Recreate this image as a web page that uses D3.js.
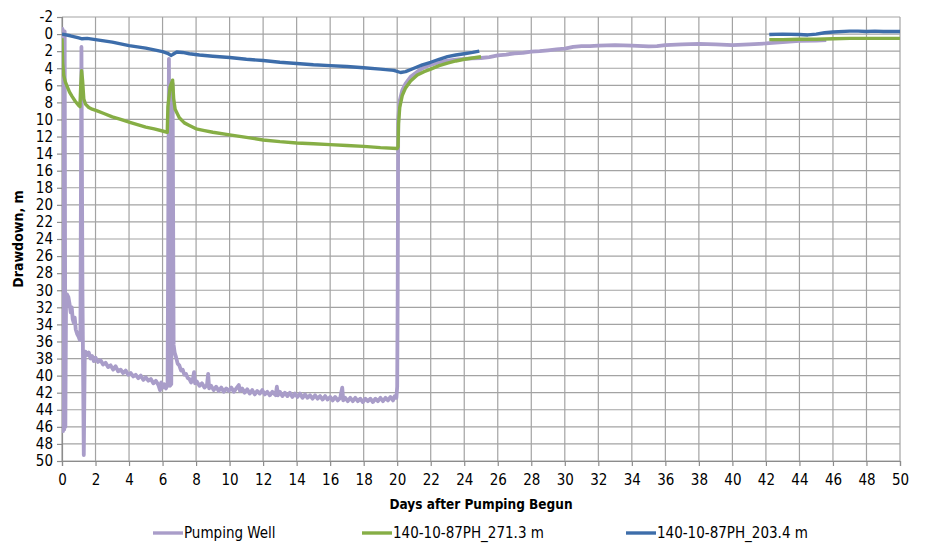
<!DOCTYPE html>
<html>
<head>
<meta charset="utf-8">
<script src="https://cdn.jsdelivr.net/npm/d3@7"></script>
<style>
  html, body { margin: 0; padding: 0; background: #fff; }
  svg { display: block; }
  text { font-family: "Liberation Sans Narrow", "DejaVu Sans Condensed", "Arial Narrow", sans-serif; fill: #000; }
</style>
</head>
<body>
<svg id="chart" width="928" height="546"></svg>
<script>
// Drawdown records for the pumping test (days since start, drawdown in metres).
// A null drawdown marks a gap in the record.
const seriesNames = ["Pumping Well", "140-10-87PH_271.3 m", "140-10-87PH_203.4 m"];

const wellDays = [0, 0.03, 0.07, 0.1, 0.13, 0.16, 0.2, 0.24, 0.3, 0.38, 0.45, 0.52, 0.58, 0.64, 0.7, 0.76, 0.82, 0.9, 0.98, 1.06, 1.1, 1.16, 1.22, 1.3, 1.36,
  1.40, 1.50, 1.60, 1.70, 1.80, 1.90, 2.00, 2.15, 2.30, 2.45, 2.60, 2.75, 2.90, 3.05, 3.20, 3.35, 3.50, 3.65, 3.80, 3.95, 4.10, 4.25, 4.40, 4.55, 4.70, 4.85,
  5.00, 5.15, 5.30, 5.45, 5.60, 5.75, 5.85, 5.92, 6.00, 6.10, 6.20, 6.30,
  6.38, 6.44, 6.52, 6.6, 6.66, 6.72, 6.8, 6.9, 7.0, 7.1, 7.2, 7.3, 7.4, 7.5,
  7.60, 7.70, 7.80, 7.88, 7.94, 8.05, 8.20, 8.35, 8.50, 8.65, 8.72, 8.78, 8.90, 9.05, 9.20, 9.35, 9.50, 9.65, 9.80, 9.95,
  10.10, 10.25, 10.40, 10.55, 10.62, 10.75, 10.90, 11.05, 11.20, 11.35, 11.50, 11.65, 11.80, 11.95, 12.10, 12.25, 12.40, 12.55, 12.75, 12.82, 12.88,
  13.00, 13.15, 13.30, 13.45, 13.60, 13.75, 13.90, 14.05, 14.20, 14.35, 14.50, 14.65, 14.80, 14.95, 15.10, 15.25, 15.40, 15.55, 15.70, 15.85,
  16.00, 16.15, 16.30, 16.45, 16.60, 16.72, 16.78, 16.90, 17.05, 17.20, 17.35, 17.50, 17.65, 17.80, 17.95, 18.10, 18.25, 18.40, 18.55, 18.70, 18.85,
  19.00, 19.15, 19.30, 19.45, 19.60, 19.75, 19.85, 19.95, 20.00,
  20.03, 20.06, 20.15, 20.3, 20.5, 20.8, 21.2, 21.6, 22.0, 22.5, 23.0, 23.5, 24.0, 24.5, 25.0, 25.5, 26.0, 26.5, 27.0, 27.5, 28.0, 28.5, 29.0, 29.5,
  30.0, 30.5, 31.0, 31.5, 32.0, 33.0, 34.0, 35.0, 35.5, 36.0, 37.0, 38.0, 39.0, 40.0, 41.0, 42.0, 43.0, 44.0, 45.0, 45.6];
const wellDrawdown = [0.2, -0.6, 46.5, 0, 46.3, -0.3, 46, 31.5, 30.5, 30.8, 31.6, 32.6, 32.0, 33.4, 33.8, 33.2, 34.6, 35.1, 35.4, 35.8, 34.5, 1.5, 30, 49.3, 37.2,
  37.2, 37.6, 37.3, 38.0, 37.7, 38.3, 37.9, 38.4, 38.2, 38.7, 38.5, 39.0, 38.8, 39.3, 38.9, 39.5, 39.3, 39.7, 39.4, 39.9, 39.7, 40.1, 39.9, 40.3, 40.0, 40.5,
  40.2, 40.6, 40.4, 40.9, 40.6, 41.1, 41.7, 40.8, 41.4, 41.0, 41.5, 41.1,
  2.9, 41.2, 41.0, 5.8, 36.4, 37.3, 37.8, 38.6, 38.8, 39.4, 39.3, 39.9, 39.8, 40.3,
  40.4, 40.8, 40.5, 39.6, 40.9, 40.7, 41.2, 40.9, 41.4, 41.1, 39.8, 41.5, 41.2, 41.7, 41.3, 41.8, 41.4, 41.9, 41.5, 41.8,
  41.4, 41.9, 41.5, 41.1, 41.8, 41.5, 42.0, 41.6, 42.1, 41.7, 42.2, 41.8, 42.1, 41.7, 42.2, 41.9, 42.3, 41.9, 42.3, 41.3, 42.3,
  41.9, 42.4, 42.0, 42.4, 42.0, 42.5, 42.1, 42.5, 42.1, 42.6, 42.2, 42.6, 42.3, 42.7, 42.3, 42.7, 42.4, 42.8, 42.4, 42.8,
  42.5, 42.9, 42.5, 42.9, 42.6, 41.4, 42.9, 42.6, 43.0, 42.6, 43.0, 42.6, 43.0, 42.7, 43.1, 42.7, 43.0, 42.7, 43.1, 42.7, 43.0,
  42.6, 43.0, 42.6, 42.9, 42.5, 42.9, 42.4, 42.6, 41.3,
  30, 10, 7.8, 6.6, 5.8, 5.0, 4.4, 3.9, 3.6, 3.3, 3.1, 3.0, 2.9, 2.85, 2.8, 2.7, 2.5, 2.4, 2.25, 2.2, 2.05, 2.0, 1.9, 1.8,
  1.7, 1.5, 1.4, 1.4, 1.35, 1.3, 1.35, 1.45, 1.4, 1.3, 1.2, 1.15, 1.2, 1.3, 1.2, 1.1, 0.95, 0.8, 0.75, 0.7];

const ph271Days = [0, 0.04, 0.1, 0.2, 0.3, 0.45, 0.6, 0.8, 0.97, 1.07, 1.12, 1.17, 1.23, 1.3, 1.4, 1.6, 1.8, 2.1, 2.5, 3.0, 3.5, 4.0, 4.5, 5.0, 5.5, 6.0, 6.28, 6.32, 6.45, 6.6, 6.66, 6.75, 7.0, 7.3, 7.6, 8.0, 8.5, 9.0, 10.0, 11.0, 12.0, 13.0, 14.0, 15.0, 16.0, 17.0, 18.0, 19.0, 20.0, 20.05, 20.08, 20.15, 20.3, 20.5, 20.8, 21.2, 21.6, 22.0, 22.5, 23.0, 23.5, 24.0, 24.5, 25.0, 33.0, 42.2, 43.0, 44.0, 45.0, 46.0, 47.0, 48.0, 49.0, 50.0];
const ph271Drawdown = [0.5, 3.4, 4.8, 5.6, 6.1, 6.8, 7.3, 7.9, 8.3, 8.5, 6.0, 4.3, 5.5, 7.6, 8.2, 8.6, 8.8, 9.0, 9.3, 9.7, 10.0, 10.3, 10.6, 10.9, 11.1, 11.35, 11.5, 8.5, 6.2, 5.4, 7.5, 8.8, 9.8, 10.4, 10.7, 11.1, 11.3, 11.5, 11.8, 12.1, 12.4, 12.6, 12.75, 12.85, 12.95, 13.05, 13.15, 13.3, 13.4, 13.2, 10.5, 8.6, 7.2, 6.3, 5.5, 4.8, 4.4, 4.1, 3.7, 3.4, 3.15, 2.95, 2.8, 2.65, null, 0.65, 0.65, 0.6, 0.6, 0.55, 0.5, 0.5, 0.5, 0.5];

const ph203Days = [0, 0.5, 1.0, 1.2, 1.5, 2.0, 2.5, 3.0, 3.5, 4.0, 4.5, 5.0, 5.5, 6.0, 6.3, 6.5, 6.6, 6.85, 7.2, 7.6, 8.2, 9.0, 10.0, 11.0, 12.0, 13.0, 14.0, 15.0, 16.0, 17.0, 18.0, 19.0, 19.8, 20.2, 20.5, 21.0, 21.5, 22.0, 22.5, 23.0, 23.5, 24.0, 24.5, 24.9, 33.0, 42.2, 43.0, 44.0, 44.5, 45.0, 45.5, 46.0, 47.0, 47.5, 48.0, 48.5, 49.0, 50.0];
const ph203Drawdown = [0, 0.2, 0.45, 0.55, 0.5, 0.65, 0.8, 0.95, 1.15, 1.35, 1.5, 1.65, 1.85, 2.05, 2.25, 2.5, 2.4, 2.1, 2.15, 2.3, 2.45, 2.6, 2.75, 2.95, 3.1, 3.3, 3.45, 3.6, 3.7, 3.8, 3.95, 4.1, 4.25, 4.5, 4.4, 4.0, 3.6, 3.3, 2.95, 2.65, 2.45, 2.3, 2.15, 2.0, null, 0.05, 0.0, 0.05, 0.1, 0.0, -0.15, -0.25, -0.35, -0.35, -0.3, -0.35, -0.3, -0.3];

const seriesColors = ["#A99DC9", "#86AE45", "#3D6DAA"];

const xTicks = d3.range(0, 51, 2);
const yTicks = d3.range(-2, 51, 2);
const xTitle = "Days after Pumping Begun";
const yTitle = "Drawdown, m";

const svg = d3.select("#chart");
const width = 928, height = 546;
const plot = { left: 62, right: 900, top: 17, bottom: 461 };

const x = d3.scaleLinear().domain([0, 50]).range([plot.left, plot.right]);
const y = d3.scaleLinear().domain([-2, 50]).range([plot.top, plot.bottom]);

svg.append("rect").attr("width", width).attr("height", height).attr("fill", "#fff");

// grid
const grid = svg.append("g").attr("stroke", "#A3A3A3").attr("stroke-width", 1.2);
grid.selectAll("line.v").data(xTicks).join("line")
  .attr("x1", d => x(d)).attr("x2", d => x(d))
  .attr("y1", plot.top).attr("y2", plot.bottom);
grid.selectAll("line.h").data(yTicks).join("line")
  .attr("x1", plot.left).attr("x2", plot.right)
  .attr("y1", d => y(d)).attr("y2", d => y(d));

// axes (plain hyphen for negative labels)
const fontSize = 15;
const plainFormat = d => String(d);
const xAxis = svg.append("g").attr("transform", `translate(0,${plot.bottom})`)
  .call(d3.axisBottom(x).tickValues(xTicks).tickFormat(plainFormat).tickSize(5).tickPadding(8));
const yAxis = svg.append("g").attr("transform", `translate(${plot.left},0)`)
  .call(d3.axisLeft(y).tickValues(yTicks).tickFormat(plainFormat).tickSize(5).tickPadding(4));
[xAxis, yAxis].forEach(a => {
  a.select(".domain").attr("stroke", "#8C8C8C").attr("stroke-width", 1.2);
  a.selectAll(".tick line").attr("stroke", "#8C8C8C").attr("stroke-width", 1.2);
  a.selectAll(".tick text").attr("font-size", fontSize)
    .attr("font-family", '"Liberation Sans Narrow", "DejaVu Sans Condensed", sans-serif')
    .attr("fill", "#000");
});

// series
const series = [
  { days: wellDays, vals: wellDrawdown, width: 3.8 },
  { days: ph271Days, vals: ph271Drawdown, width: 3.4 },
  { days: ph203Days, vals: ph203Drawdown, width: 3.4 }
];
const line = d3.line()
  .defined(d => d[1] != null)
  .x(d => x(d[0])).y(d => y(d[1]));
svg.append("clipPath").attr("id", "plotClip").append("rect")
  .attr("x", plot.left).attr("y", plot.top - 3)
  .attr("width", plot.right - plot.left + 2).attr("height", plot.bottom - plot.top + 3);
series.forEach((s, i) => {
  svg.append("path")
    .datum(s.days.map((d, j) => [d, s.vals[j]]))
    .attr("clip-path", "url(#plotClip)")
    .attr("fill", "none")
    .attr("stroke", seriesColors[i])
    .attr("stroke-width", s.width)
    .attr("stroke-linejoin", "round")
    .attr("d", line);
});

// titles
svg.append("text")
  .attr("x", (plot.left + plot.right) / 2).attr("y", 509)
  .attr("text-anchor", "middle").attr("font-size", 13.5).attr("font-weight", "bold")
  .text(xTitle);
svg.append("text")
  .attr("transform", `translate(23,${(plot.top + plot.bottom) / 2}) rotate(-90)`)
  .attr("text-anchor", "middle").attr("font-size", 14).attr("font-weight", "bold")
  .text(yTitle);

// legend
const legendX = [153, 362, 626];
const legendY = 533;
const legend = svg.append("g");
seriesNames.forEach((name, i) => {
  legend.append("line")
    .attr("x1", legendX[i]).attr("x2", legendX[i] + 30)
    .attr("y1", legendY).attr("y2", legendY)
    .attr("stroke", seriesColors[i]).attr("stroke-width", 3.4);
  legend.append("text")
    .attr("x", legendX[i] + 31).attr("y", legendY + 5)
    .attr("font-size", fontSize)
    .text(name);
});
</script>
</body>
</html>
